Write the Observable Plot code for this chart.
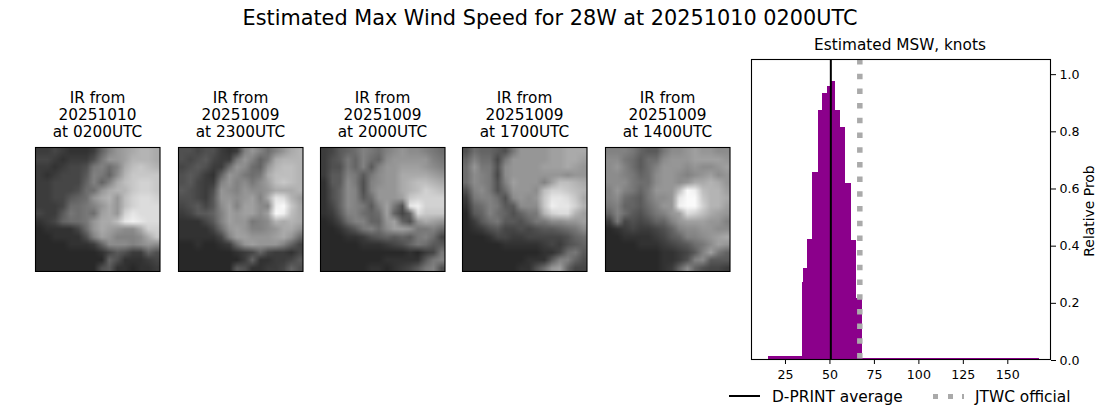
<!DOCTYPE html>
<html><head><meta charset="utf-8">
<script src="https://cdn.jsdelivr.net/npm/d3@7"></script>
<script src="https://cdn.jsdelivr.net/npm/@observablehq/plot@0.6"></script>
<style>
html,body{margin:0;padding:0;background:#fff;}
#fig{position:relative;width:1100px;height:409px;overflow:hidden;font-family:"DejaVu Sans",sans-serif;color:#000;}
#fig>*{position:absolute;}
.t{text-align:center;white-space:pre;}
svg{background:transparent;}
</style></head><body><div id="fig"></div>
<script>
const mainTitle = "Estimated Max Wind Speed for 28W at 20251010 0200UTC";
const histTitle = "Estimated MSW, knots";
const yLabel = "Relative Prob";
const xTicks = [25, 50, 75, 100, 125, 150];
const yTicks = [0, 0.2, 0.4, 0.6, 0.8, 1.0];
const binStart = [15.4, 34.5, 35.3, 37.4, 40.2, 43.7, 46, 48.8, 51, 53, 56, 58.8, 62, 65, 68.3];
const binEnd = [34.5, 35.3, 37.4, 40.2, 43.7, 46, 48.8, 51, 53, 56, 58.8, 62, 65, 68.3, 168];
const binProb = [0.012, 0.27, 0.32, 0.42, 0.655, 0.87, 0.93, 0.955, 0.973, 0.87, 0.81, 0.617, 0.417, 0.214, 0.005];
const dprintAverage = 50.5;
const jtwcOfficial = 66.8;
const legendLabels = ["D-PRINT average", "JTWC official"];
const panelTitles = ["IR from\n20251010\nat 0200UTC", "IR from\n20251009\nat 2300UTC", "IR from\n20251009\nat 2000UTC", "IR from\n20251009\nat 1700UTC", "IR from\n20251009\nat 1400UTC"];
// Brightness grids (grey level / 10), 16 rows of 16
const ir0200 = [
6,6,7,6,5,5,5,6,10,13,15,16,17,18,18,17,
7,7,6,5,6,6,6,8,12,15,15,16,18,18,18,17,
6,6,5,6,7,7,8,12,13,11,13,17,19,20,19,18,
6,5,6,7,7,7,9,13,12,10,14,18,20,20,20,20,
6,6,7,7,7,7,10,13,10,13,17,19,20,21,21,20,
6,6,7,7,7,8,11,11,15,17,18,18,20,21,21,20,
6,6,7,7,9,10,11,15,17,18,15,19,21,22,22,21,
6,6,6,7,11,11,12,13,15,17,15,19,21,22,22,22,
7,6,6,9,12,11,12,11,16,17,15,21,23,22,22,22,
5,6,7,10,11,11,12,15,17,17,19,23,24,23,22,22,
4,5,5,5,5,7,11,15,17,16,15,14,14,17,21,21,
4,4,5,5,5,5,8,13,16,15,13,13,13,14,17,20,
4,4,4,4,5,5,5,6,10,14,14,14,13,14,15,14,
4,4,4,4,4,4,4,4,5,7,9,8,6,6,10,8,
4,4,4,4,4,4,4,4,4,10,8,5,5,5,6,7,
4,4,4,4,4,4,4,4,8,9,5,5,4,5,5,6];
const ir2300 = [
8,8,7,8,8,6,5,6,13,15,13,11,13,15,17,18,
8,7,8,9,7,6,6,12,15,13,10,12,17,18,18,18,
7,8,9,8,6,6,11,15,14,11,10,15,18,19,19,18,
8,9,8,6,5,10,15,14,12,11,12,17,19,19,19,18,
8,9,7,6,6,13,15,13,14,12,14,16,19,20,19,18,
9,8,7,6,8,15,14,13,15,14,14,15,17,17,17,18,
8,8,7,6,9,15,15,14,15,16,13,17,23,22,18,16,
7,8,9,7,9,14,16,13,16,16,14,13,24,25,20,17,
6,7,9,9,10,13,16,15,16,16,14,16,25,24,19,17,
5,5,5,7,9,13,16,15,15,12,13,14,18,17,18,17,
5,5,5,5,7,11,15,16,15,13,13,14,15,17,17,15,
5,5,5,5,5,7,13,16,16,15,15,15,16,17,15,11,
4,4,5,4,4,5,6,11,15,16,15,15,15,13,10,7,
4,4,4,4,4,4,4,5,6,7,10,7,6,6,5,7,
4,4,4,4,4,4,4,4,6,10,5,5,6,6,7,9,
4,4,4,4,4,4,4,9,8,5,5,6,6,7,10,8];
const ir2000 = [
6,7,9,10,11,13,12,11,13,14,15,14,14,13,12,11,
6,8,9,12,10,13,11,10,14,15,15,15,15,15,13,12,
6,8,8,12,10,13,9,13,15,15,16,16,16,15,14,13,
6,9,9,13,12,9,12,14,15,15,17,17,17,17,16,15,
5,9,9,14,12,8,13,14,15,15,17,18,19,19,18,17,
5,8,10,14,13,8,13,15,15,15,17,18,19,21,20,19,
5,8,10,14,13,9,11,15,15,15,16,20,21,21,21,21,
5,7,10,14,13,12,9,13,16,12,8,23,24,21,21,21,
5,6,9,13,13,11,10,11,16,10,7,10,22,20,20,20,
4,5,7,11,13,13,10,10,15,16,10,8,15,17,16,15,
4,4,5,7,9,12,13,11,14,16,16,15,12,12,13,11,
4,4,4,5,5,6,8,9,10,9,10,9,12,13,11,7,
4,4,4,4,4,5,5,5,6,7,8,10,12,11,9,9,
4,4,4,4,4,4,4,4,4,4,4,5,4,6,7,12,
4,4,4,4,4,4,4,4,5,5,5,5,5,9,12,13,
4,4,4,4,4,4,5,5,4,5,6,7,9,12,13,8];
const ir1700 = [
8,11,10,10,9,8,12,15,15,15,15,16,16,17,17,17,
10,13,11,11,7,12,15,15,15,15,15,16,16,17,17,16,
11,15,12,12,8,14,15,15,15,15,16,16,16,17,16,15,
11,14,13,12,7,14,15,15,15,15,15,15,15,14,15,15,
11,14,13,12,8,13,16,15,15,15,13,16,19,19,18,17,
8,13,14,12,8,11,15,15,15,14,19,21,21,20,19,18,
6,12,13,13,11,8,14,15,14,15,20,23,23,22,20,17,
5,10,11,13,12,9,9,14,14,14,20,24,23,23,21,18,
4,9,10,13,11,10,8,10,12,12,18,21,22,22,18,16,
4,6,9,11,12,9,9,8,10,12,12,14,14,15,15,16,
4,5,6,8,9,7,7,8,7,8,9,9,10,11,12,14,
4,4,4,5,7,7,6,6,7,7,7,7,7,8,10,11,
4,4,4,4,4,5,5,5,5,5,6,7,6,8,9,10,
4,4,4,4,4,4,4,4,4,4,5,5,7,11,12,9,
4,4,4,4,4,4,4,4,5,5,5,9,13,13,10,8,
4,4,4,4,4,4,4,5,5,8,11,15,16,10,7,7];
const ir1400 = [
13,13,13,12,10,9,9,12,14,14,15,16,15,15,14,14,
14,14,12,11,9,11,11,14,15,15,15,16,16,16,16,15,
14,15,13,11,9,11,13,15,15,15,14,15,14,14,15,16,
14,14,13,12,10,11,14,15,15,14,13,14,15,16,14,15,
14,14,14,12,11,11,14,15,15,14,15,17,17,18,17,15,
13,15,13,12,10,12,15,15,15,19,25,24,19,18,18,16,
13,14,11,10,9,12,14,14,15,23,25,25,20,18,18,17,
12,13,10,10,9,11,13,15,15,24,25,25,21,18,18,16,
10,13,11,9,8,10,12,13,15,16,22,21,19,17,16,15,
6,12,7,8,7,8,10,10,13,15,16,16,16,15,15,13,
4,5,6,7,6,6,7,8,10,13,14,14,15,15,14,14,
4,4,5,5,5,5,6,7,9,10,13,13,14,15,16,17,
4,4,4,4,5,5,5,6,7,8,9,11,12,14,16,15,
4,4,4,4,4,4,4,5,5,6,7,9,13,16,12,10,
4,4,4,4,4,4,4,5,5,6,8,13,14,9,9,9,
4,4,4,4,4,4,4,5,6,10,14,10,8,7,7,6];
const panelGrids = [ir0200, ir2300, ir2000, ir1700, ir1400];
const gridSize = 16;

const FONT = '"DejaVu Sans",sans-serif';
const fig = document.getElementById("fig");
function place(el, left, top){ el.style.left = left + "px"; el.style.top = top + "px"; fig.appendChild(el); return el; }
function text(str, cx, cy, size, lh){
  const d = document.createElement("div");
  d.className = "t"; d.textContent = str;
  d.style.fontSize = size + "px"; d.style.lineHeight = lh + "px";
  d.style.width = "800px"; d.style.left = (cx - 400) + "px"; d.style.top = cy + "px";
  fig.appendChild(d); return d;
}
text(mainTitle, 550, 6, 20.8, 24);
text(histTitle, 900, 36, 15.3, 18);

const panelLefts = [35, 178, 320, 462, 605];
panelGrids.forEach((grid, i) => {
  const p = Plot.plot({
    width: 126.5, height: 126, margin: 1,
    x: {domain: [0, gridSize], axis: null},
    y: {domain: [0, gridSize], axis: null, reverse: true},
    color: {type: "linear", domain: [0, 25.5], range: ["#000", "#fff"]},
    marks: [
      Plot.raster(grid, {width: gridSize, height: gridSize, x1: 0, y1: 0, x2: gridSize, y2: gridSize}),
      Plot.frame({stroke: "#000", strokeWidth: 1.1})
    ]
  });
  place(p, panelLefts[i] - 1, 146);
  text(panelTitles[i], panelLefts[i] + 62.5, 89.5, 15.3, 17.4);
});

const bins = binProb.map((p, i) => ({x1: binStart[i], x2: binEnd[i], p}));
const hist = Plot.plot({
  width: 1100, height: 409,
  marginLeft: 751, marginRight: 50, marginTop: 59, marginBottom: 50,
  style: {fontFamily: FONT, fontSize: "12.6px", color: "#000", background: "transparent"},
  x: {domain: [5.9, 174], label: null},
  y: {domain: [0, 1.0495], label: null},
  marks: [
    Plot.rectY(bins, {x1: "x1", x2: "x2", y1: 0, y2: "p", fill: "#8b008b", shapeRendering: "crispEdges"}),
    Plot.ruleX([dprintAverage], {stroke: "#000", strokeWidth: 2}),
    Plot.ruleX([jtwcOfficial], {y1: 1.0495, y2: 0, stroke: "#aaa", strokeWidth: 5.5, strokeDasharray: "5.5 9.2"}),
    Plot.axisX({ticks: xTicks, tickSize: 5, tickPadding: 6, tickFormat: d => d, label: null, fontSize: 12.6, stroke: "#000"}),
    Plot.axisY({anchor: "right", ticks: yTicks, tickSize: 5, tickPadding: 4, dy: 1, tickFormat: d3.format(".1f"), label: null, fontSize: 12.6}),
    Plot.frame({stroke: "#000", strokeWidth: 1.1})
  ]
});
place(hist, 0, 0);

const rot = text(yLabel, 1089, 201, 13.9, 20);
rot.style.transform = "rotate(-90deg)";
rot.style.transformOrigin = "center";

// legend
function legendLine(x, w, css){
  const d = document.createElement("div");
  d.style.left = x + "px"; d.style.width = w + "px"; d.style.top = css.top + "px"; d.style.height = css.h + "px";
  d.style.background = css.bg; fig.appendChild(d);
}
legendLine(729, 31, {top: 395, h: 2, bg: "#000"});
legendLine(933, 31, {top: 394, h: 5, bg: "repeating-linear-gradient(90deg,#aaa 0 5.5px,transparent 5.5px 14.7px)"});
function legendText(str, x){
  const d = document.createElement("div");
  d.textContent = str; d.style.left = x + "px"; d.style.top = "388px";
  d.style.fontSize = "15.4px"; d.style.lineHeight = "18px"; d.style.whiteSpace = "pre";
  fig.appendChild(d);
}
legendText(legendLabels[0], 772);
legendText(legendLabels[1], 975);
</script></body></html>
